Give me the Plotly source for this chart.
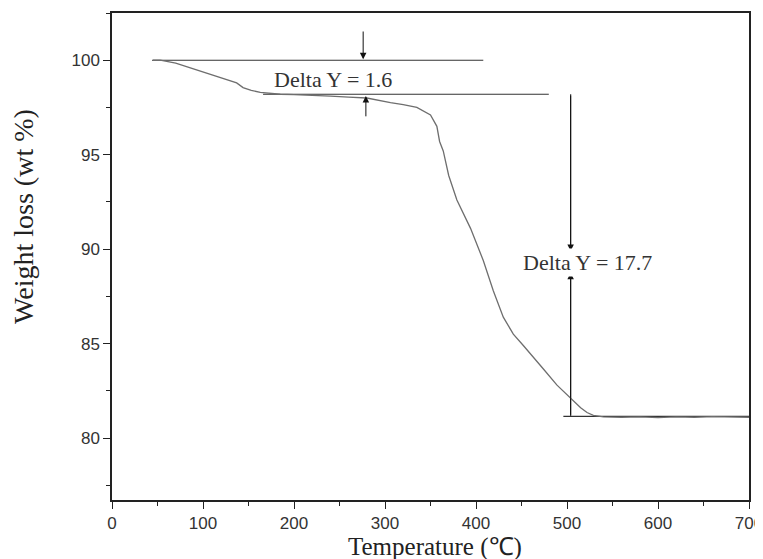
import plotly.graph_objects as go

# TGA curve
temp = [45, 53, 70, 86, 105, 122, 137, 144, 153, 163, 175, 185, 200, 220, 240, 260,
        280, 306, 320, 335, 350, 357, 360, 364, 370, 379, 394, 408, 419, 430, 441,
        452, 463, 475, 489, 504, 515, 522, 529, 540, 560, 580, 600, 620, 640, 660, 680, 700]
weight = [100.0, 100.0, 99.85, 99.6, 99.3, 99.0, 98.8, 98.55, 98.4, 98.3, 98.25, 98.2,
          98.18, 98.15, 98.1, 98.05, 98.0, 97.75, 97.65, 97.5, 97.1, 96.5, 95.7, 95.2,
          93.9, 92.6, 91.1, 89.4, 87.8, 86.4, 85.5, 84.9, 84.3, 83.6, 82.8, 82.1,
          81.6, 81.35, 81.2, 81.12, 81.1, 81.12, 81.08, 81.12, 81.1, 81.13, 81.1, 81.1]

# reference lines for the step analysis
top_x, top_y = [44, 408], [100.0, 100.0]
mid_x, mid_y = [166, 480], [98.2, 98.2]
low_x, low_y = [496, 700], [81.15, 81.15]
vert_x, vert_y = [504, 504], [98.2, 81.15]

fig = go.Figure()

for xs, ys in [(top_x, top_y), (mid_x, mid_y), (low_x, low_y), (vert_x, vert_y)]:
    fig.add_trace(go.Scatter(x=xs, y=ys, mode="lines",
                             line=dict(color="#333333", width=1.2),
                             hoverinfo="skip", showlegend=False))

fig.add_trace(go.Scatter(x=temp, y=weight, mode="lines",
                         line=dict(color="#6e6e6e", width=1.3),
                         showlegend=False))

# arrows: (x, tip y, tail y)
arrows = [(276, 100.05, 101.6), (279, 98.1, 96.95), (504, 89.9, 98.2), (504, 88.75, 81.15)]
for x, tip, tail in arrows:
    fig.add_annotation(x=x, y=tip, ax=x, ay=tail, xref="x", yref="y",
                       axref="x", ayref="y", text="", showarrow=True,
                       arrowhead=2, arrowsize=1.3, arrowwidth=1, arrowcolor="#111111")

fig.add_annotation(x=243, y=98.97, text="Delta Y = 1.6", showarrow=False,
                   font=dict(family="Liberation Serif", size=22, color="#333333"))
fig.add_annotation(x=523, y=89.3, text="Delta Y = 17.7", showarrow=False,
                   bgcolor="white",
                   font=dict(family="Liberation Serif", size=22, color="#333333"))

# axis titles placed as paper annotations
fig.add_annotation(x=0.507, y=-0.096, xref="paper", yref="paper", showarrow=False,
                   text="Temperature (\u2103)",
                   font=dict(family="Liberation Serif", size=25, color="#222"),
                   xanchor="center", yanchor="middle")
fig.add_annotation(x=-0.14, y=0.583, xref="paper", yref="paper", showarrow=False,
                   text="Weight loss (wt %)",
                   font=dict(family="Liberation Serif", size=28, color="#222"),
                   textangle=-90, xanchor="center", yanchor="middle")

fig.update_xaxes(range=[0, 700], dtick=100, ticks="outside", ticklen=7,
                 tickwidth=1.3, tickcolor="#222", showline=True, linecolor="#222",
                 linewidth=1.5, mirror=True, showgrid=False, zeroline=False,
                 automargin=False,
                 minor=dict(dtick=50, ticks="outside", ticklen=4, tickcolor="#222"),
                 tickfont=dict(family="Liberation Sans", size=17, color="#333"))
fig.update_yaxes(range=[76.72, 102.5], tickvals=[80, 85, 90, 95, 100], ticks="outside",
                 ticklen=7, tickwidth=1.3, tickcolor="#222", showline=True,
                 linecolor="#222", linewidth=1.5, mirror=True, showgrid=False,
                 zeroline=False, automargin=False,
                 minor=dict(dtick=2.5, ticks="outside", ticklen=4, tickcolor="#222"),
                 tickfont=dict(family="Liberation Sans", size=17, color="#333"))

# the page body adds an 8px margin; the figure runs a little past the right edge
# of the window so the "700" label is kept like the original
fig.update_layout(width=763, height=551, plot_bgcolor="white", paper_bgcolor="white",
                  margin=dict(l=104, r=22, t=5, b=59), showlegend=False)

fig.write_html("out.html")
